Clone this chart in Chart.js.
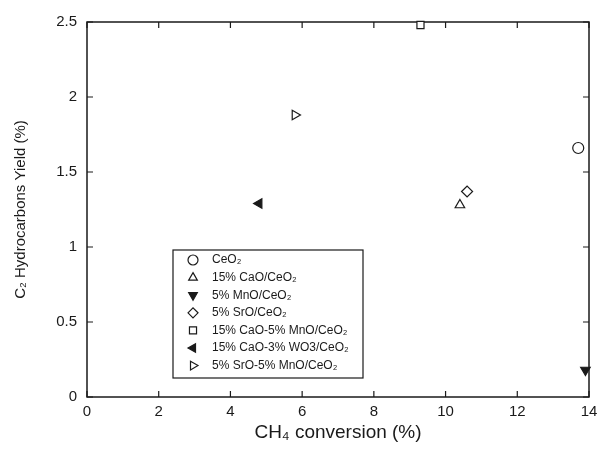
<!DOCTYPE html>
<html>
<head>
<meta charset="utf-8">
<script src="https://cdn.jsdelivr.net/npm/chart.js@4/dist/chart.umd.min.js"></script>
<style>
  html, body { margin: 0; padding: 0; background: #fff; }
  #wrap { width: 597px; height: 450px; }
</style>
</head>
<body>
<div id="wrap"><canvas id="yieldChart" width="597" height="450"></canvas></div>
<script>
// data
const catalysts = [
  'CeO₂',
  '15% CaO/CeO₂',
  '5% MnO/CeO₂',
  '5% SrO/CeO₂',
  '15% CaO-5% MnO/CeO₂',
  '15% CaO-3% WO3/CeO₂',
  '5% SrO-5% MnO/CeO₂'
];
const ch4Conversion = [13.7, 10.4, 13.9, 10.6, 9.3, 4.8, 5.8];
const c2Yield = [1.66, 1.28, 0.18, 1.37, 2.48, 1.29, 1.88];
const xTicks = [0, 2, 4, 6, 8, 10, 12, 14];
const yTicks = [0, 0.5, 1, 1.5, 2, 2.5];

// marker look for each catalyst (open / filled, shape, rotation)
const markerShape = ['circle', 'triangle', 'triangle', 'rectRot', 'rect', 'triangle', 'triangle'];
const markerRotation = [0, 0, 180, 0, 0, -90, 90];
const markerFilled = [false, false, true, false, false, true, false];

const FONT = "'Liberation Sans', Arial, sans-serif";
const INK = '#1a1a1a';

const datasets = catalysts.map((name, i) => ({
  label: name,
  data: [{ x: ch4Conversion[i], y: c2Yield[i] }],
  pointStyle: markerShape[i],
  rotation: markerRotation[i],
  pointRadius: markerShape[i] === 'rect' ? 5 : 5.5,
  pointBorderWidth: 1.2,
  borderColor: INK,
  backgroundColor: markerFilled[i] ? INK : '#fff',
  showLine: false,
  clip: false
}));

// box with inward ticks on all four sides (matlab style)
const framePlugin = {
  id: 'frame',
  beforeDatasetsDraw(chart) {
    const { ctx, chartArea: a, scales } = chart;
    ctx.save();
    ctx.strokeStyle = INK;
    ctx.lineWidth = 1.5;
    ctx.strokeRect(a.left, a.top, a.right - a.left, a.bottom - a.top);
    ctx.lineWidth = 1.2;
    ctx.beginPath();
    xTicks.forEach(v => {
      const px = scales.x.getPixelForValue(v);
      ctx.moveTo(px, a.bottom); ctx.lineTo(px, a.bottom - 6);
      ctx.moveTo(px, a.top); ctx.lineTo(px, a.top + 6);
    });
    yTicks.forEach(v => {
      const py = scales.y.getPixelForValue(v);
      ctx.moveTo(a.left, py); ctx.lineTo(a.left + 6, py);
      ctx.moveTo(a.right, py); ctx.lineTo(a.right - 6, py);
    });
    ctx.stroke();
    ctx.restore();
  }
};

// boxed legend sitting inside the plot
const boxLegend = {
  id: 'boxLegend',
  afterDraw(chart) {
    const { ctx, chartArea: a } = chart;
    const left = a.left + 86, top = a.top + 228, w = 190, h = 128;
    ctx.save();
    ctx.fillStyle = '#fff';
    ctx.fillRect(left, top, w, h);
    ctx.strokeStyle = INK;
    ctx.lineWidth = 1.2;
    ctx.strokeRect(left, top, w, h);
    ctx.font = '12px ' + FONT;
    ctx.textBaseline = 'middle';
    chart.data.datasets.forEach((ds, i) => {
      const y = top + 10 + i * 17.6;
      ctx.fillStyle = ds.backgroundColor;
      ctx.strokeStyle = ds.borderColor;
      ctx.lineWidth = 1.2;
      Chart.helpers.drawPoint(ctx, {
        pointStyle: ds.pointStyle,
        rotation: ds.rotation,
        radius: 5,
        borderWidth: 1.2
      }, left + 20, y);
      ctx.fillStyle = INK;
      ctx.fillText(ds.label, left + 39, y);
    });
    ctx.restore();
  }
};

new Chart(document.getElementById('yieldChart'), {
  type: 'scatter',
  data: { datasets },
  options: {
    responsive: false,
    animation: false,
    layout: { padding: { top: 22, right: 8, left: 0, bottom: 0 } },
    plugins: {
      legend: { display: false },
      tooltip: { enabled: false }
    },
    scales: {
      x: {
        type: 'linear',
        min: 0,
        max: 14,
        afterBuildTicks: s => { s.ticks = xTicks.map(v => ({ value: v })); },
        afterFit: s => { s.height = 53; s.paddingLeft = 0; s.paddingRight = 0; },
        grid: { display: false, drawTicks: false },
        border: { display: false },
        ticks: { padding: 6, color: INK, font: { family: FONT, size: 15 }, callback: v => String(v) },
        title: {
          display: true,
          text: 'CH₄ conversion (%)',
          color: INK,
          font: { family: FONT, size: 19 },
          padding: { top: 0, bottom: 6 }
        }
      },
      y: {
        type: 'linear',
        min: 0,
        max: 2.5,
        afterBuildTicks: s => { s.ticks = yTicks.map(v => ({ value: v })); },
        afterFit: s => { s.width = 87; s.paddingTop = 0; s.paddingBottom = 0; },
        grid: { display: false, drawTicks: false },
        border: { display: false },
        ticks: { padding: 10, color: INK, font: { family: FONT, size: 15 }, callback: v => String(v) },
        title: {
          display: true,
          text: 'C₂ Hydrocarbons Yield (%)',
          color: INK,
          font: { family: FONT, size: 15 },
          padding: { top: 12, bottom: 0 }
        }
      }
    }
  },
  plugins: [framePlugin, boxLegend]
});
</script>
</body>
</html>
